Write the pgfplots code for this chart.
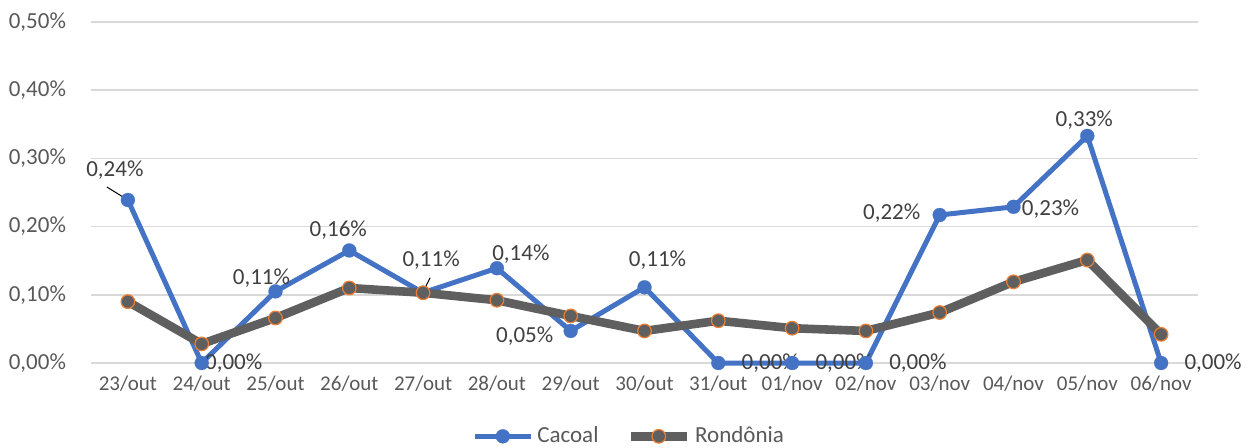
\documentclass[border=0pt]{standalone}
\usepackage{pgfplots}
\pgfplotsset{compat=1.18}
\usepackage{fontspec}
\setmainfont{Carlito}
\definecolor{cblue}{HTML}{4472C4}
\definecolor{cgray}{HTML}{5F5F5F}
\definecolor{corange}{HTML}{ED7D31}
\definecolor{gridc}{HTML}{D9D9D9}
\definecolor{txt}{HTML}{595959}
\definecolor{lblc}{HTML}{404040}
\begin{document}
\begin{tikzpicture}
\begin{axis}[
  scale only axis, width=553.5bp, height=170.5bp,
  xmin=-0.5, xmax=14.5, ymin=0, ymax=0.5,
  xtick={0,...,14},
  xticklabels={23/out,24/out,25/out,26/out,27/out,28/out,29/out,30/out,31/out,01/nov,02/nov,03/nov,04/nov,05/nov,06/nov},
  ytick={0,0.1,0.2,0.3,0.4,0.5},
  yticklabels={{0,00\%},{0,10\%},{0,20\%},{0,30\%},{0,40\%},{0,50\%}},
  axis x line*=bottom, axis y line*=left,
  x axis line style={draw=gridc, line width=0.75bp},
  y axis line style={draw=none},
  ytick style={draw=none},
  xtick style={draw=none},
  major tick length=0pt,
  extra x ticks={-0.5,0.5,...,14.5},
  extra x tick labels={},
  extra x tick style={tick align=outside, major tick length=3bp, tick style={draw=gridc, line width=0.75bp}},
  ymajorgrids, major grid style={draw=gridc, line width=0.75bp},
  tick label style={text=txt},
  yticklabel style={font=\fontsize{11.5bp}{13bp}\selectfont, xshift=-9bp},
  xticklabel style={font=\fontsize{10.5bp}{12bp}\selectfont, yshift=-3bp},
  legend style={at={(0.487,-0.215)}, anchor=center, draw=none, legend columns=2,
    font=\fontsize{11.5bp}{13bp}\selectfont, text=txt,
    /tikz/every even column/.append style={column sep=12bp},
    inner sep=0pt, row sep=0pt},
  legend image code/.code={\draw[mark repeat=2,mark phase=2,#1] plot coordinates {(0bp,0bp) (14bp,0bp) (28bp,0bp)};},
  clip=false,
]
\addplot[color=cblue, line width=2.5bp, mark=*, mark size=3.5bp, mark options={fill=cblue, draw=cblue, line width=0.1bp}]
 coordinates {(0,0.239) (1,0) (2,0.105) (3,0.165) (4,0.103) (5,0.139) (6,0.047) (7,0.111) (8,0) (9,0) (10,0) (11,0.217) (12,0.229) (13,0.333) (14,0)};
\addlegendentry{Cacoal}
\addplot[color=cgray, line width=4.3bp, mark=*, mark size=3.4bp, mark options={fill=cgray, draw=corange, line width=0.6bp}]
 coordinates {(0,0.090) (1,0.028) (2,0.066) (3,0.110) (4,0.103) (5,0.092) (6,0.069) (7,0.047) (8,0.062) (9,0.051) (10,0.047) (11,0.074) (12,0.119) (13,0.151) (14,0.042)};
\addlegendentry{Rondônia}
\begin{scope}[every node/.style={font=\fontsize{11.5bp}{13bp}\selectfont, text=lblc, inner sep=0pt}]
\node[xshift=-6.5bp, yshift=15bp] at (axis cs:0,0.239) {0,24\%};
\draw[black, line width=0.5bp] (axis cs:0,0.239) -- ++(-10.5bp,6.5bp);
\node[anchor=west, xshift=1.5bp] at (axis cs:1,0) {0,00\%};
\node[xshift=-7bp, yshift=6.5bp] at (axis cs:2,0.105) {0,11\%};
\node[xshift=-5.5bp, yshift=10bp] at (axis cs:3,0.165) {0,16\%};
\node[xshift=4bp, yshift=16.5bp] at (axis cs:4,0.103) {0,11\%};
\draw[black, line width=0.5bp] (axis cs:4,0.103) ++(0.5bp,1.5bp) -- ++(3bp,6bp);
\node[xshift=12bp, yshift=7bp] at (axis cs:5,0.139) {0,14\%};
\node[xshift=-23bp, yshift=-2.5bp] at (axis cs:6,0.047) {0,05\%};
\node[xshift=6.5bp, yshift=13.5bp] at (axis cs:7,0.111) {0,11\%};
\node[anchor=west, xshift=11.5bp] at (axis cs:8,0) {0,00\%};
\node[anchor=west, xshift=11.5bp] at (axis cs:9,0) {0,00\%};
\node[anchor=west, xshift=11.5bp] at (axis cs:10,0) {0,00\%};
\node[xshift=-24bp, yshift=1bp] at (axis cs:11,0.217) {0,22\%};
\node[xshift=18.5bp, yshift=-1bp] at (axis cs:12,0.229) {0,23\%};
\node[xshift=-1.5bp, yshift=8bp] at (axis cs:13,0.333) {0,33\%};
\node[anchor=west, xshift=11.5bp] at (axis cs:14,0) {0,00\%};
\end{scope}
\end{axis}
\pgfresetboundingbox
\path (-45.5bp,-42.5bp) rectangle (580bp,181.5bp);
\end{tikzpicture}
\end{document}
